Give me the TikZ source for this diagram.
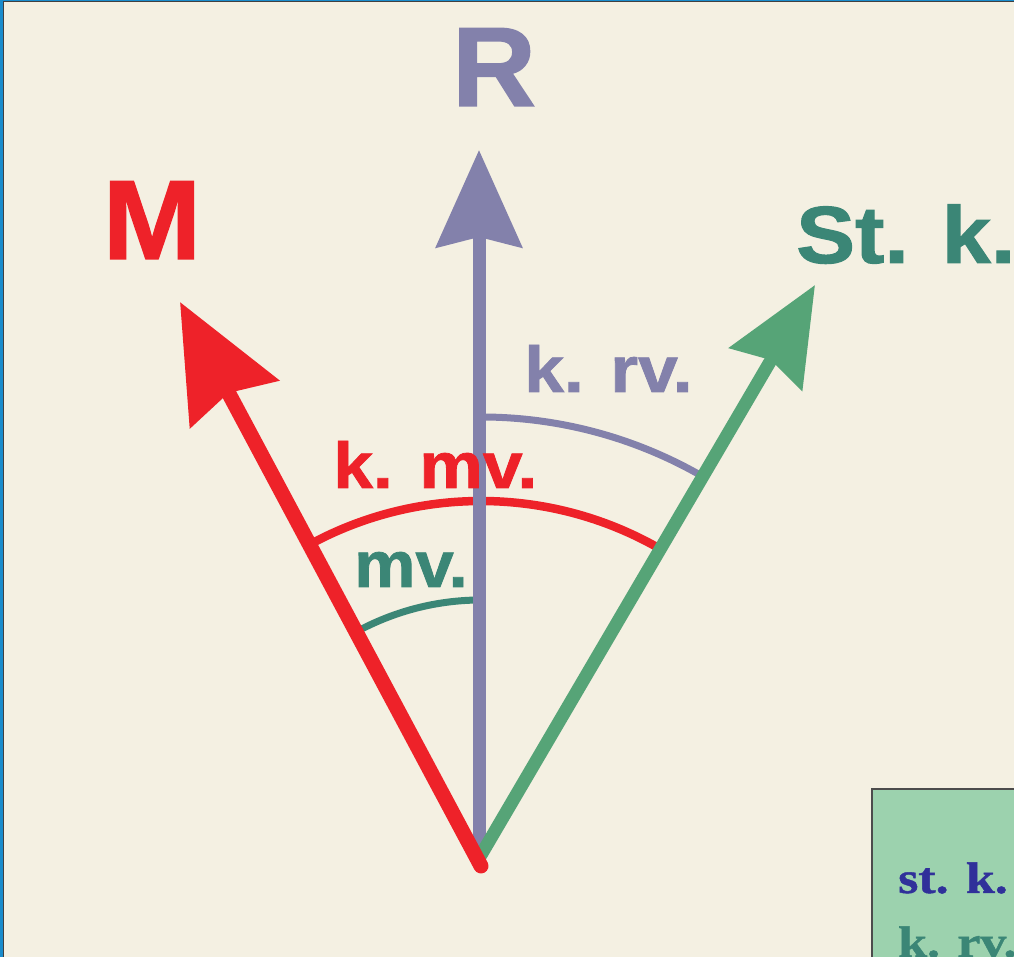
\documentclass[tikz,border=0pt]{standalone}
\usepackage{fontspec}
\usetikzlibrary{arrows.meta}
\newfontfamily\hv{Liberation Sans}[BoldFeatures={FakeBold=1.2}]
\newfontfamily\sr{Liberation Serif}[BoldFeatures={FakeBold=1}]
\definecolor{bg}{HTML}{F4F0E2}
\definecolor{cred}{HTML}{EE2229}
\definecolor{cpurple}{HTML}{8381AB}
\definecolor{cgreen}{HTML}{56A477}
\definecolor{cteal}{HTML}{3B8676}
\definecolor{cbox}{HTML}{9CD2AE}
\definecolor{cblue}{HTML}{30309A}
\definecolor{cframe}{HTML}{1A8CCC}
\newcommand{\wider}[2]{\scalebox{#1}[1]{#2}}
\tikzset{
  lbl/.style={inner sep=0pt, font=\hv\bfseries},
  big/.style={lbl, font=\hv\bfseries\fontsize{113}{113}\selectfont},
  mid/.style={lbl, font=\hv\bfseries\fontsize{81}{81}\selectfont},
  small/.style={lbl, font=\hv\bfseries\fontsize{65}{65}\selectfont},
  boxtxt/.style={inner sep=0pt, font=\sr\bfseries\fontsize{44}{44}\selectfont},
  vec/.style={line cap=round},
  angarc/.style={line width=8pt},
}
\begin{document}
\begin{tikzpicture}[x=1pt,y=1pt]
\useasboundingbox (0,0) rectangle (1014,957);
\fill[bg] (0,0) rectangle (1014,957);
% frame remnants
\fill[cframe] (0,0) rectangle (2.5,957);
\fill[cframe] (0,956.3) rectangle (1014,957);
\draw[black!75, line width=1.8pt] (3.4,0) -- (3.4,955.4) -- (1014,955.4);

\coordinate (O) at (481,97);
\coordinate (Rs) at (481,91);
\coordinate (Rt) at (180,655);
\coordinate (Ps) at (479,107);
\coordinate (Pt) at (479,807);
\coordinate (Gs) at (481,102);
\coordinate (Gt) at (815,672);

% angle arcs
\draw[cteal, angarc, line width=7pt] (O) ++(118.1:260) arc[start angle=118.1, end angle=90, radius=260];
\draw[cred, angarc, line width=8.5pt] (O) ++(118.1:359) arc[start angle=118.1, end angle=59.6, radius=359];
\draw[cpurple, angarc, line width=7pt] (O) ++(90:443) arc[start angle=90, end angle=59.6, radius=443];

% vectors
\draw[cpurple, vec, line width=13pt, -{Stealth[length=97pt, width=85pt, inset=10pt]}] (Ps) -- (Pt);
\draw[cgreen, vec, line width=13pt, -{Stealth[length=97pt, width=83pt, inset=10pt]}] (Gs) -- (Gt);
\draw[cred, vec, line width=15pt, -{Stealth[length=115pt, width=99pt, inset=12pt]}] (Rs) -- (Rt);

% labels
\node[big, text=cpurple, anchor=base] (lR) at (494,851) {\wider{1.03}{R}};
\node[big, text=cred, anchor=base] (lM) at (152,698) {\wider{1.05}{M}};
\node[mid, text=cteal, anchor=base west] (lS) at (796,694) {\wider{1.09}{St. k.}};
\node[small, text=cpurple, anchor=base west] (lkrv) at (524,565) {\wider{1.1}{k. rv.}};
\node[small, text=cred, anchor=base west] (lkmv) at (333,469) {\wider{1.1}{k. mv.}};
\node[small, text=cteal, anchor=base west] (lmv) at (354,370) {\wider{1.06}{mv.}};

% legend box
\filldraw[fill=cbox, draw=black!70, line width=1.5pt] (872,-5) rectangle (1020,168);
\node[boxtxt, text=cblue, anchor=base west] (bst) at (898,64) {\wider{1.18}{st. k.}};
\node[boxtxt, text=cteal, anchor=base west] (bkrv) at (898,0) {\wider{1.18}{k. rv.}};
\end{tikzpicture}
\end{document}
